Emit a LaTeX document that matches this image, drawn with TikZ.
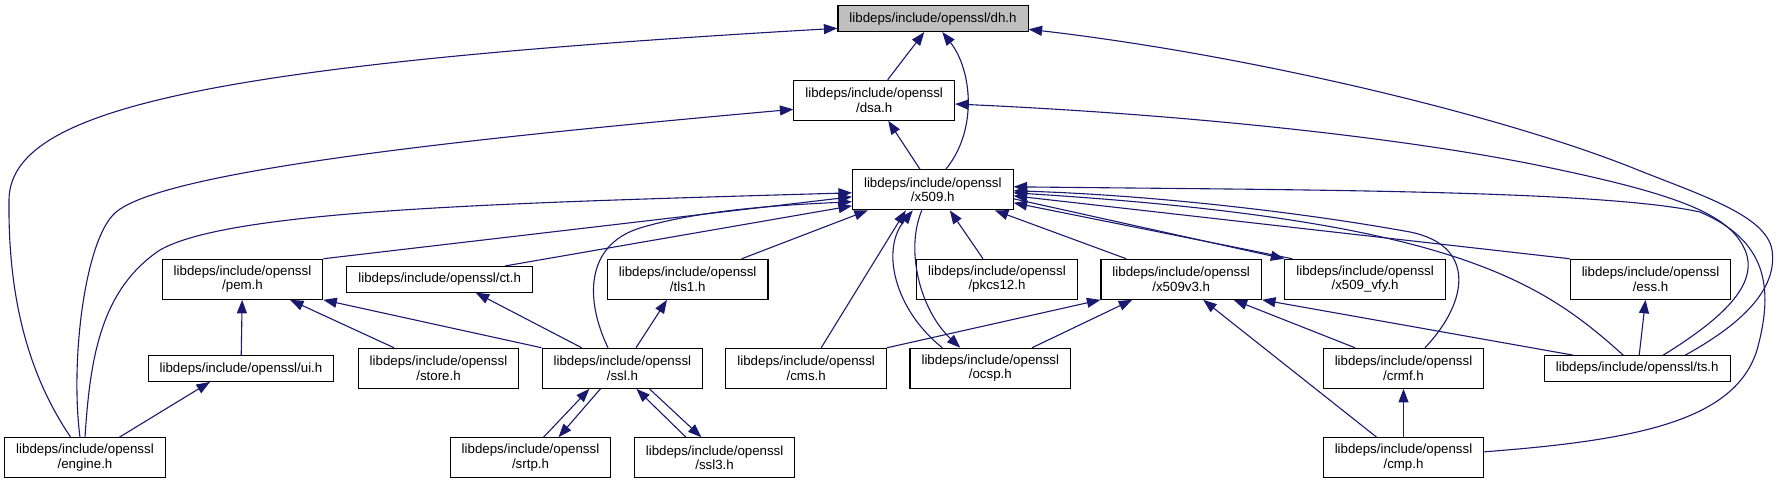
\documentclass[tikz,border=0pt]{standalone}
\usepackage{fontspec}
\setmainfont{Liberation Sans}
\usetikzlibrary{arrows.meta}

\definecolor{edgeblue}{HTML}{191970}
\definecolor{rootgrey}{HTML}{BFBFBF}

\begin{document}
\begin{tikzpicture}[x=1pt, y=-1pt,
    file/.style={draw=black, line width=1.1pt, fill=white, align=center, inner xsep=11.5pt, inner ysep=2pt,
      minimum height=25.6pt, font=\fontsize{13.3}{14.5}\selectfont},
    file2/.style={file, minimum height=40pt, minimum width=160.3pt},
    root/.style={file, fill=rootgrey},
    inc/.style={-{Triangle[length=13.5pt, width=10pt]}, edgeblue, line width=1.1pt}]
    \useasboundingbox (0,0) rectangle (1780,484);
    % headers
    \node[root]  (dh)      at (933,18.7)    {libdeps/include/openssl/dh.h};
    \node[file2] (dsa)     at (874.2,100.3) {libdeps/include/openssl\\/dsa.h};
    \node[file2] (x509)    at (932.8,189.8) {libdeps/include/openssl\\/x509.h};
    \node[file2] (pem)     at (242.5,279.3) {libdeps/include/openssl\\/pem.h};
    \node[file]  (ct)      at (439.7,279.3) {libdeps/include/openssl/ct.h};
    \node[file2] (tls1)    at (687.7,279.3) {libdeps/include/openssl\\/tls1.h};
    \node[file2] (pkcs12)  at (997,279.3)   {libdeps/include/openssl\\/pkcs12.h};
    \node[file2] (x509v3)  at (1181.2,279.3) {libdeps/include/openssl\\/x509v3.h};
    \node[file2] (x509vfy) at (1365.1,279.3) {libdeps/include/openssl\\/x509\_vfy.h};
    \node[file2] (ess)     at (1650.5,279.3) {libdeps/include/openssl\\/ess.h};
    \node[file]  (ui)      at (241,368.6)   {libdeps/include/openssl/ui.h};
    \node[file2] (store)   at (438.5,368.3) {libdeps/include/openssl\\/store.h};
    \node[file2] (ssl)     at (622.4,368.3) {libdeps/include/openssl\\/ssl.h};
    \node[file2] (cms)     at (806.2,368.3) {libdeps/include/openssl\\/cms.h};
    \node[file2] (ocsp)    at (990.3,368.3) {libdeps/include/openssl\\/ocsp.h};
    \node[file2] (crmf)    at (1403.5,368.3) {libdeps/include/openssl\\/crmf.h};
    \node[file]  (ts)      at (1637.2,368.5) {libdeps/include/openssl/ts.h};
    \node[file2] (engine)  at (85,457.8)    {libdeps/include/openssl\\/engine.h};
    \node[file2] (srtp)    at (530.5,457.8) {libdeps/include/openssl\\/srtp.h};
    \node[file2] (ssl3)    at (714.6,457.8) {libdeps/include/openssl\\/ssl3.h};
    \node[file2] (cmp)     at (1403.5,457.8) {libdeps/include/openssl\\/cmp.h};
    % into dh.h
    \draw[inc] ([xshift=13.5pt]dsa.north) -- ([xshift=-8.7pt]dh.south);
    \draw[inc] ([xshift=13pt]x509.north) .. controls (978,130) and (972,70) .. ([xshift=9.3pt]dh.south);
    \draw[inc] ([xshift=-14.3pt]engine.north) .. controls (25,370) and (8,290) .. (9,200)
      .. controls (10,110) and (200,65) .. ([yshift=-9.6pt]dh.west);
    \draw[inc] ([xshift=48pt]ts.north) .. controls (1740,325) and (1778,290) .. (1772,250)
      .. controls (1766,215) and (1700,195) .. (1633,168)
      .. controls (1500,115) and (1250,55) .. ([yshift=-10.6pt]dh.east);
    % into dsa.h
    \draw[inc] ([xshift=-12.8pt]x509.north) -- ([xshift=14pt]dsa.south);
    \draw[inc] ([xshift=-5pt]engine.north) .. controls (70,360) and (85,240) .. (115,213)
      .. controls (160,172) and (450,140) .. ([yshift=-9pt]dsa.west);
    \draw[inc] ([xshift=26pt]ts.north) .. controls (1720,320) and (1760,285) .. (1745,250)
      .. controls (1730,215) and (1680,195) .. (1551,168)
      .. controls (1420,140) and (1200,115) .. ([yshift=-3.7pt]dsa.east);
    % into x509.h
    \draw[inc] (engine.north) .. controls (90,360) and (100,290) .. (160,250)
      .. controls (230,210) and (500,203) .. ([yshift=-3pt]x509.west);
    \draw[inc] (pem.north east) -- ([yshift=-7pt]x509.west);
    \draw[inc] ([xshift=-14.4pt]ssl.north) .. controls (585,300) and (585,245) .. (640,228)
      .. controls (700,210) and (780,205) .. ([yshift=-12pt]x509.west);
    \draw[inc] ([xshift=65.3pt]ct.north) -- ([yshift=-16pt]x509.west);
    \draw[inc] ([xshift=54pt]tls1.north) -- ([xshift=-65pt]x509.south);
    \draw[inc] ([xshift=-14pt]pkcs12.north) -- ([xshift=17pt]x509.south);
    \draw[inc] ([xshift=-55pt]x509v3.north) -- ([xshift=62pt]x509.south);
    \draw[inc] ([xshift=15pt]cms.north) -- ([xshift=-27pt]x509.south);
    \draw[inc] ([xshift=-48pt]ocsp.north) .. controls (895,310) and (880,250) .. ([xshift=-20pt]x509.south);
    \draw[inc] ([xshift=-11pt]x509.south) .. controls (905,250) and (920,310) .. ([xshift=-30pt]ocsp.north);
    \draw[inc] ([xshift=21.5pt]crmf.north) .. controls (1470,300) and (1475,245) .. (1410,232)
      .. controls (1300,212) and (1150,195) .. ([yshift=-1pt]x509.east);
    \draw[inc] ([xshift=-14pt]ts.north) .. controls (1540,280) and (1450,220) .. ([yshift=-3pt]x509.east);
    \draw[inc] ([yshift=6pt]cmp.east) .. controls (1640,440) and (1735,420) .. (1757,350)
      .. controls (1775,285) and (1765,240) .. (1700,212)
      .. controls (1600,190) and (1300,190) .. ([yshift=3pt]x509.east);
    \draw[inc] (ess.north west) -- ([yshift=-6pt]x509.east);
    \draw[inc] ([xshift=8pt]x509vfy.north west) -- ([yshift=-13pt]x509.east);
    \draw[inc] ([yshift=-9pt]x509.east) -- (x509vfy.north west);
    % into x509v3.h
    \draw[inc] (cms.north east) -- (x509v3.south west);
    \draw[inc] ([xshift=41.7pt]ocsp.north) -- ([xshift=-49pt]x509v3.south);
    \draw[inc] ([xshift=-26.8pt]cmp.north) -- ([xshift=22pt]x509v3.south);
    \draw[inc] ([xshift=-48.5pt]crmf.north) -- ([xshift=52.4pt]x509v3.south);
    \draw[inc] ([xshift=-64pt]ts.north) -- (x509v3.south east);
    % pem.h, ct.h, tls1.h, ui.h
    \draw[inc] (ui) -- (pem);
    \draw[inc] ([xshift=-44.5pt]store.north) -- ([xshift=47.5pt]pem.south);
    \draw[inc] (ssl.north west) -- (pem.south east);
    \draw[inc] ([xshift=-40.7pt]ssl.north) -- ([xshift=36pt]ct.south);
    \draw[inc] ([xshift=13.6pt]ssl.north) -- ([xshift=-20.7pt]tls1.south);
    \draw[inc] ([xshift=34.3pt]engine.north) -- ([xshift=-31pt]ui.south);
    % ssl.h with srtp.h and ssl3.h
    \draw[inc] ([xshift=13pt]srtp.north) -- ([xshift=-33pt]ssl.south);
    \draw[inc] ([xshift=-22pt]ssl.south) -- ([xshift=28pt]srtp.north);
    \draw[inc] ([xshift=-28.6pt]ssl3.north) -- ([xshift=14pt]ssl.south);
    \draw[inc] ([xshift=27pt]ssl.south) -- ([xshift=-13.2pt]ssl3.north);
    % ess.h, crmf.h
    \draw[inc] ([xshift=2pt]ts.north) -- ([xshift=-5pt]ess.south);
    \draw[inc] (cmp) -- (crmf);
\end{tikzpicture}
\end{document}
